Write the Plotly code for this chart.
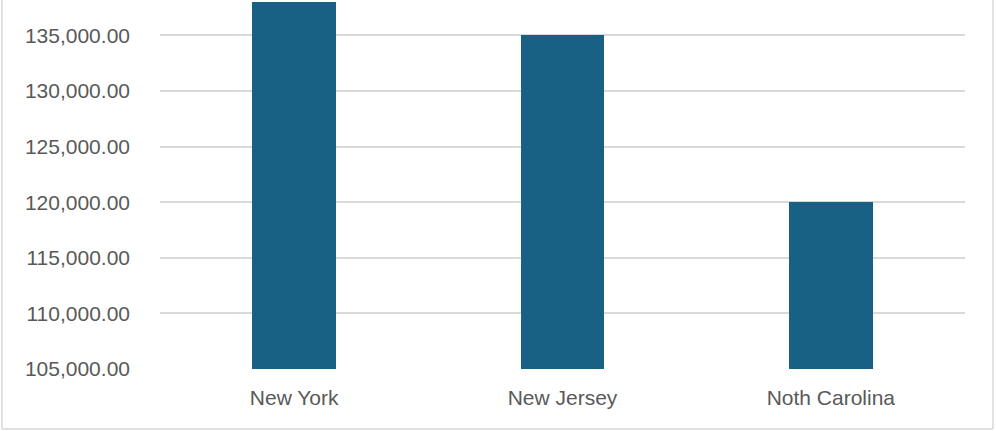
import plotly.graph_objects as go

states = ["New York", "New Jersey", "Noth Carolina"]
values = [140000, 135000, 120000]
y_ticks = [105000, 110000, 115000, 120000, 125000, 130000, 135000]

W, H = 996, 431
L, R, T, B = 160, 31, 2, 62
pw = W - L - R
ph = H - T - B

fig = go.Figure(go.Bar(
    x=states, y=values, marker_color="#186185", width=0.313,
    marker_line_width=0, cliponaxis=True,
))

font = dict(family="Liberation Sans, Arial, sans-serif", size=21, color="#595959")

fig.update_layout(
    width=W, height=H,
    margin=dict(l=L, r=R, t=T, b=B, pad=0),
    paper_bgcolor="white", plot_bgcolor="white",
    showlegend=False,
    font=font,
    bargap=0,
    xaxis=dict(showgrid=False, zeroline=False, showline=False, ticks="",
               tickfont=font, ticklabelstandoff=14),
    yaxis=dict(range=[105000, 138000], tickvals=y_ticks,
               tickformat=",.2f", showgrid=True, gridcolor="#d9d9d9",
               gridwidth=1.5, zeroline=False, showline=False, ticks="",
               tickfont=font, ticklabelstandoff=29),
)

# outer chart border (left, right, bottom)
def px_x(x): return (x - L) / pw
def px_y(y): return (H - B - y) / ph
border = dict(color="#d9d9d9", width=1.5)
fig.add_shape(type="line", xref="paper", yref="paper", x0=px_x(2), x1=px_x(2),
              y0=px_y(429), y1=px_y(-5), line=border)
fig.add_shape(type="line", xref="paper", yref="paper", x0=px_x(993), x1=px_x(993),
              y0=px_y(429), y1=px_y(-5), line=border)
fig.add_shape(type="line", xref="paper", yref="paper", x0=px_x(2), x1=px_x(993),
              y0=px_y(429), y1=px_y(429), line=border)

fig.write_html("out.html", config={"displayModeBar": False},
               post_script="document.body.style.margin='0';")
